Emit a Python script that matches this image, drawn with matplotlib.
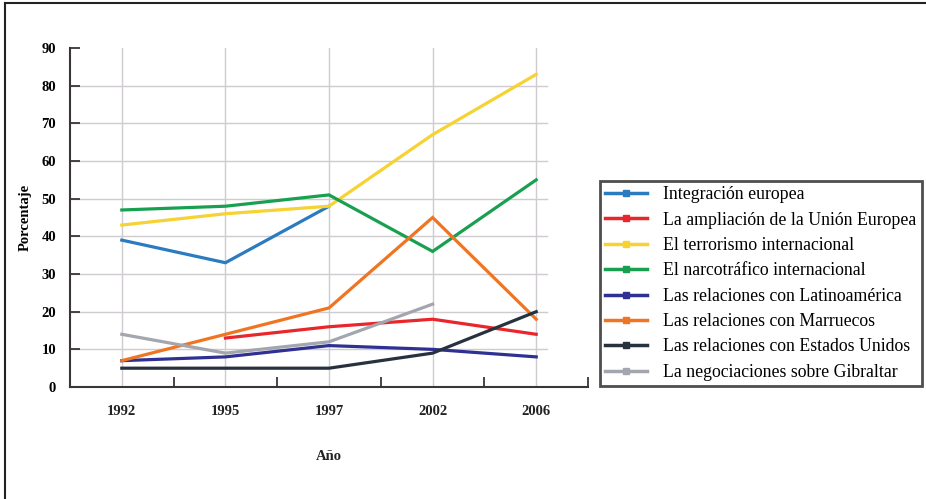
import matplotlib
matplotlib.use('Agg')
import matplotlib.pyplot as plt
from matplotlib.lines import Line2D
import numpy as np

plt.rcParams['font.family'] = ['Liberation Serif', 'DejaVu Serif']

years = ['1992', '1995', '1997', '2002', '2006']

integracion = [39, 33, 48, None, None]
ampliacion = [None, 13, 16, 18, 14]
terrorismo = [43, 46, 48, 67, 83]
narcotrafico = [47, 48, 51, 36, 55]
latinoamerica = [7, 8, 11, 10, 8]
marruecos = [7, 14, 21, 45, 18]
estados_unidos = [5, 5, 5, 9, 20]
gibraltar = [14, 9, 12, 22, None]

series = [
    ('Integración europea', integracion, '#2a7bc0'),
    ('La ampliación de la Unión Europea', ampliacion, '#e8262b'),
    ('El terrorismo internacional', terrorismo, '#f6d232'),
    ('El narcotráfico internacional', narcotrafico, '#18a050'),
    ('Las relaciones con Latinoamérica', latinoamerica, '#2e3192'),
    ('Las relaciones con Marruecos', marruecos, '#f07522'),
    ('Las relaciones con Estados Unidos', estados_unidos, '#28323e'),
    ('La negociaciones sobre Gibraltar', gibraltar, '#a3a6ae'),
]

fig = plt.figure(figsize=(9.26, 4.99), dpi=100)
ax = fig.add_axes([0.0756, 0.2244, 0.5594, 0.6794])

x = np.arange(len(years))

# grid: vertical at each year, horizontal every 10
for xi in x:
    ax.plot([xi, xi], [0, 90], color='#cfcbd0', lw=1, zorder=1)
for yv in range(10, 90, 10):
    ax.plot([-0.5, 4.1], [yv, yv], color='#cfcbd0', lw=1, zorder=1)

handles = []
for label, vals, color in series:
    v = np.array([np.nan if a is None else a for a in vals], dtype=float)
    ax.plot(x, v, color=color, lw=2.3, zorder=3, solid_joinstyle='miter')
    handles.append(Line2D([], [], color=color, lw=2.5, marker='s',
                          markersize=5, label=label))

ax.set_xlim(-0.5, 4.5)
ax.set_ylim(0, 90)
ax.spines['top'].set_visible(False)
ax.spines['right'].set_visible(False)
for s in ('left', 'bottom'):
    ax.spines[s].set_color('#3a3536')
    ax.spines[s].set_linewidth(1.5)

ax.set_yticks(range(0, 91, 10))
ax.tick_params(axis='y', direction='in', length=7, width=1.3, color='#3a3536',
               labelsize=10.5, pad=10)
ax.set_xticks(np.arange(0.5, 4.6, 1.0))
ax.set_xticklabels([])
ax.tick_params(axis='x', direction='in', length=7, width=1.3, color='#3a3536')
for lab in ax.get_yticklabels():
    lab.set_fontweight('bold')
for xi, yr in zip(x, years):
    ax.text(xi, -4.8, yr, ha='center', va='top', fontsize=10.5,
            fontweight='bold', color='#222222')

ax.text(2.0, -16.6, 'Año', ha='center', va='top', fontsize=10.5,
        fontweight='bold', color='#222222')
ax.set_ylabel('Porcentaje', fontsize=10.5, fontweight='bold', labelpad=7)

leg = fig.legend(handles=handles, loc='upper left',
                 bbox_to_anchor=(600 / 926, 1 - 181 / 499),
                 fontsize=12.8, frameon=True, fancybox=False,
                 handlelength=2.36, handletextpad=0.9, labelspacing=0.47,
                 borderpad=0.3, borderaxespad=0)
leg.get_frame().set_edgecolor('#222222')
leg.get_frame().set_linewidth(2)

# outer frame on the top and left edges
fig.add_artist(Line2D([5 / 926, 5 / 926], [0, 1 - 3 / 499], transform=fig.transFigure,
                      color='#222222', lw=1.5))
fig.add_artist(Line2D([5 / 926, 1], [1 - 3 / 499, 1 - 3 / 499], transform=fig.transFigure,
                      color='#222222', lw=1.5))

fig.savefig('out.png', dpi=100)
